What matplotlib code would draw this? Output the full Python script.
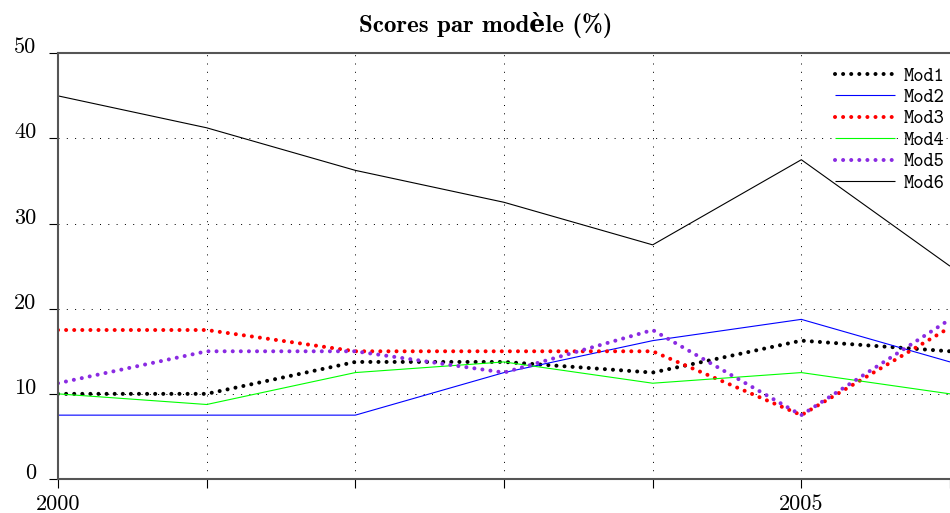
import numpy as np
import matplotlib
matplotlib.use("Agg")
import matplotlib.pyplot as plt

years = [2000, 2001, 2002, 2003, 2004, 2005, 2006]
year_labels = ["2000", "", "", "", "", "2005", ""]
y_ticks = [0, 10, 20, 30, 40, 50]

mod1 = [10.0, 10.0, 13.75, 13.75, 12.5, 16.25, 15.0]
mod2 = [7.5, 7.5, 7.5, 12.5, 16.25, 18.75, 13.75]
mod3 = [17.5, 17.5, 15.0, 15.0, 15.0, 7.5, 17.8]
mod4 = [10.0, 8.75, 12.5, 13.75, 11.25, 12.5, 10.0]
mod5 = [11.25, 15.0, 15.0, 12.5, 17.5, 7.5, 18.75]
mod6 = [45.0, 41.25, 36.25, 32.5, 27.5, 37.5, 25.0]

W, H = 950, 513
fig = plt.figure(figsize=(W / 100, H / 100), dpi=100)
ax = fig.add_axes([58 / W, (H - 479) / H, 1 - 58 / W, (479 - 53.3) / H])

dots = (0, (0.01, 2.0))
series = [
    ("Mod1", mod1, "black", dots, 2.9),
    ("Mod2", mod2, "#0000ff", "-", 0.8),
    ("Mod3", mod3, "#ff0000", dots, 2.9),
    ("Mod4", mod4, "#00ff00", "-", 0.8),
    ("Mod5", mod5, "#8a2be2", dots, 2.9),
    ("Mod6", mod6, "black", "-", 0.8),
]
for name, vals, color, ls, lw in series:
    ax.plot(years, vals, color=color, linestyle=ls, linewidth=lw,
            dash_capstyle="round", solid_capstyle="butt", label=name)

ax.set_xlim(2000, 2006)
ax.set_ylim(0, 50)
ax.set_xticks(years)
ax.set_xticklabels(year_labels)
ax.set_yticks(y_ticks)
ax.set_yticklabels([str(v) for v in y_ticks])
ax.grid(True, color="black", linestyle=(0, (1, 7.3)), linewidth=0.72)
ax.set_axisbelow(True)

for side in ("left", "bottom", "top"):
    ax.spines[side].set_color("#555555")
    ax.spines[side].set_linewidth(1.5)
ax.spines["right"].set_visible(False)
ax.tick_params(direction="out", length=6.5, width=0.8, color="black")
ax.tick_params(axis="x", pad=5)
ax.tick_params(axis="y", pad=9)
for lab in ax.get_xticklabels() + ax.get_yticklabels():
    lab.set_fontfamily(["cmr10", "DejaVu Serif"])
    lab.set_fontsize(16)
for lab in ax.get_yticklabels():
    lab.set_va("baseline")

leg = ax.legend(loc="upper right", bbox_to_anchor=(945 / W, 1 - 67 / H),
                bbox_transform=fig.transFigure, frameon=False,
                prop={"family": ["cmtt10", "DejaVu Sans Mono"], "size": 14},
                handlelength=3.1, handletextpad=0.46, labelspacing=0.145,
                borderpad=0, borderaxespad=0)

fig.text(486 / W, 1 - 25 / H, "Scores par modèle (%)", ha="center", va="center",
         fontsize=18, fontweight="bold", family=["cmb10", "DejaVu Serif"])

fig.savefig("out.png", dpi=100)
